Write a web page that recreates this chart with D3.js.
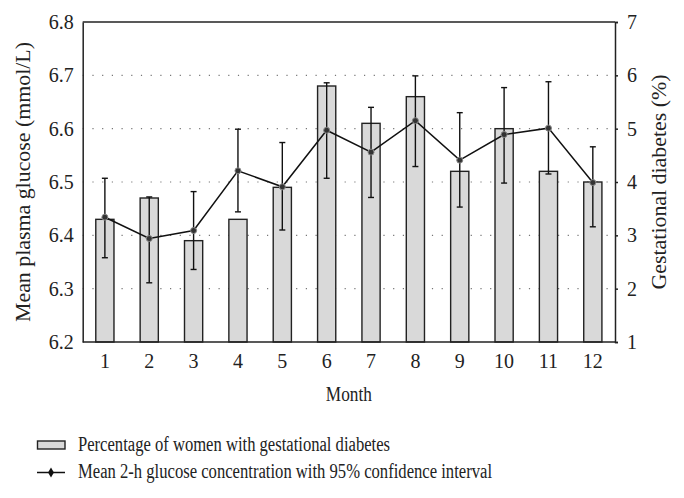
<!DOCTYPE html>
<html>
<head>
<meta charset="utf-8">
<script src="https://cdn.jsdelivr.net/npm/d3@7"></script>
<style>
	body { margin: 0; background: #fff; }
	svg text { font-family: "Liberation Serif", "DejaVu Serif", serif; fill: #222; }
</style>
</head>
<body>
<svg width="684" height="498"></svg>
<script>
	// chart values
	var months = ["1","2","3","4","5","6","7","8","9","10","11","12"]
	var gdmPercent = [3.3, 3.7, 2.9, 3.3, 3.9, 5.8, 5.1, 5.6, 4.2, 5.0, 4.2, 4.0]
	var glucoseMean = [6.434, 6.394, 6.409, 6.521, 6.491, 6.597, 6.556, 6.615, 6.541, 6.589, 6.601, 6.499]
	var ciLow  = [6.358, 6.311, 6.336, 6.444, 6.410, 6.507, 6.471, 6.529, 6.453, 6.498, 6.515, 6.416]
	var ciHigh = [6.507, 6.472, 6.482, 6.599, 6.574, 6.686, 6.640, 6.699, 6.630, 6.677, 6.688, 6.566]
	var leftTicks = [6.2, 6.3, 6.4, 6.5, 6.6, 6.7, 6.8]
	var rightTicks = [1, 2, 3, 4, 5, 6, 7]

	var svg = d3.select("svg")
	var padding = {t: 22, r: 69, b: 156, l: 82.7}
	var svgWidth = 684, svgHeight = 498
	var plotRight = svgWidth - padding.r
	var plotBottom = svgHeight - padding.b
	var fs = "20px"

	var x = d3.scaleBand()
		.domain(months)
		.range([padding.l, plotRight])
		.paddingInner(0.59)
		.paddingOuter(0.295)

	var yLeft = d3.scaleLinear().domain([6.2, 6.8]).range([plotBottom, padding.t])
	var yRight = d3.scaleLinear().domain([1, 7]).range([plotBottom, padding.t])

	// dotted grid
	svg.append("g").selectAll("line")
		.data(leftTicks.slice(1, -1))
		.enter().append("line")
		.attr("x1", padding.l).attr("x2", plotRight)
		.attr("y1", function(d) { return yLeft(d) }).attr("y2", function(d) { return yLeft(d) })
		.attr("stroke", "#777").attr("stroke-width", 1.2)
		.attr("stroke-dasharray", "1.2,8.5")

	// bars (right axis, %)
	svg.append("g").selectAll("rect")
		.data(gdmPercent)
		.enter().append("rect")
		.attr("x", function(d, i) { return x(months[i]) })
		.attr("width", x.bandwidth())
		.attr("y", function(d) { return yRight(d) })
		.attr("height", function(d) { return plotBottom - yRight(d) })
		.attr("fill", "#d9d9d9")
		.attr("stroke", "#222")
		.attr("stroke-width", 1.4)

	var cx = function(i) { return x(months[i]) + x.bandwidth() / 2 }

	// error bars
	var err = svg.append("g").attr("stroke", "#111").attr("stroke-width", 1.4)
	glucoseMean.forEach(function(m, i) {
		err.append("line").attr("x1", cx(i)).attr("x2", cx(i))
			.attr("y1", yLeft(ciLow[i])).attr("y2", yLeft(ciHigh[i]))
		err.append("line").attr("x1", cx(i) - 3).attr("x2", cx(i) + 3)
			.attr("y1", yLeft(ciLow[i])).attr("y2", yLeft(ciLow[i]))
		err.append("line").attr("x1", cx(i) - 3).attr("x2", cx(i) + 3)
			.attr("y1", yLeft(ciHigh[i])).attr("y2", yLeft(ciHigh[i]))
	})

	// mean line
	var line = d3.line()
		.x(function(d, i) { return cx(i) })
		.y(function(d) { return yLeft(d) })
	svg.append("path")
		.datum(glucoseMean)
		.attr("d", line)
		.attr("fill", "none")
		.attr("stroke", "#111")
		.attr("stroke-width", 1.5)

	svg.append("g").selectAll("circle")
		.data(glucoseMean)
		.enter().append("circle")
		.attr("cx", function(d, i) { return cx(i) })
		.attr("cy", function(d) { return yLeft(d) })
		.attr("r", 3)
		.attr("fill", "#333")
		.attr("stroke", "#888")
		.attr("stroke-width", 1)

	// frame
	svg.append("line").attr("x1", padding.l).attr("x2", plotRight)
		.attr("y1", padding.t).attr("y2", padding.t).attr("stroke", "#222").attr("stroke-width", 1.5)
	svg.append("line").attr("x1", padding.l).attr("x2", plotRight)
		.attr("y1", plotBottom).attr("y2", plotBottom).attr("stroke", "#222").attr("stroke-width", 1.5)

	// left axis
	var leftAxis = svg.append("g")
		.attr("transform", "translate(" + padding.l + ",0)")
		.call(d3.axisLeft(yLeft).tickValues(leftTicks).tickFormat(d3.format(".1f")).tickSize(0).tickPadding(9))
	leftAxis.select(".domain").attr("stroke", "#222").attr("stroke-width", 1.5)
	leftAxis.selectAll("text").style("font-size", fs)

	// right axis
	var rightAxis = svg.append("g")
		.attr("transform", "translate(" + plotRight + ",0)")
		.call(d3.axisRight(yRight).tickValues(rightTicks).tickFormat(d3.format("d")).tickSize(3).tickPadding(9))
	rightAxis.select(".domain").attr("stroke", "#222").attr("stroke-width", 1.5)
	rightAxis.selectAll(".tick line").attr("stroke", "#222").attr("stroke-width", 1.5)
	rightAxis.selectAll("text").style("font-size", fs)

	// bottom axis
	var bottomAxis = svg.append("g")
		.attr("transform", "translate(0," + plotBottom + ")")
		.call(d3.axisBottom(x).tickSize(0).tickPadding(12))
	bottomAxis.select(".domain").remove()
	bottomAxis.selectAll("text").style("font-size", fs)

	// axis titles
	svg.append("text")
		.attr("text-anchor", "middle")
		.style("font-size", fs)
		.attr("textLength", 280).attr("lengthAdjust", "spacingAndGlyphs")
		.attr("transform", "translate(30," + (padding.t + plotBottom) / 2 + ")rotate(-90)")
		.text("Mean plasma glucose (mmol/L)")

	svg.append("text")
		.attr("text-anchor", "middle")
		.style("font-size", fs)
		.attr("textLength", 215).attr("lengthAdjust", "spacingAndGlyphs")
		.attr("transform", "translate(666," + (padding.t + plotBottom) / 2 + ")rotate(-90)")
		.text("Gestational diabetes (%)")

	svg.append("text")
		.attr("x", (padding.l + plotRight) / 2)
		.attr("y", 400.5)
		.attr("text-anchor", "middle")
		.style("font-size", fs)
		.attr("textLength", 46).attr("lengthAdjust", "spacingAndGlyphs")
		.text("Month")

	// legend
	svg.append("rect")
		.attr("x", 37.5).attr("y", 441).attr("width", 27.5).attr("height", 8)
		.attr("fill", "#d9d9d9").attr("stroke", "#222").attr("stroke-width", 1.4)
	svg.append("text")
		.attr("x", 78).attr("y", 451)
		.style("font-size", fs)
		.attr("textLength", 312).attr("lengthAdjust", "spacingAndGlyphs")
		.text("Percentage of women with gestational diabetes")

	svg.append("line")
		.attr("x1", 37).attr("x2", 65).attr("y1", 472.5).attr("y2", 472.5)
		.attr("stroke", "#111").attr("stroke-width", 1.5)
	svg.append("path")
		.attr("d", d3.symbol().type(d3.symbolDiamond).size(30))
		.attr("transform", "translate(51,472.5)")
		.attr("fill", "#111")
	svg.append("text")
		.attr("x", 78).attr("y", 477.5)
		.style("font-size", fs)
		.attr("textLength", 414).attr("lengthAdjust", "spacingAndGlyphs")
		.text("Mean 2-h glucose concentration with 95% confidence interval")
</script>
</body>
</html>
